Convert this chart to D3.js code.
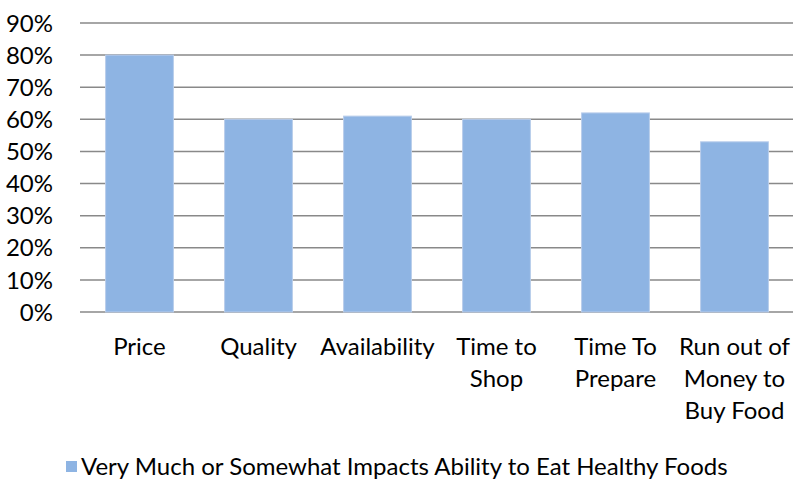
<!DOCTYPE html>
<html lang="en">
<head>
    <meta charset="UTF-8">
    <title>Impacts on Healthy Eating</title>
    <style>
        body {
            margin: 0;
            background-color: white;
        }
        text {
            font-family: Lato, "Open Sans", sans-serif;
            font-size: 24px;
            fill: #000;
        }
        .grid line {
            stroke: #898989;
            stroke-width: 1.5;
        }
        .bar {
            fill: rgb(142, 180, 227);
            stroke: rgb(185, 205, 235);
            stroke-width: 1;
        }
    </style>
</head>
<body>
    <svg width="793" height="481"></svg>
    <script src="https://cdn.jsdelivr.net/npm/d3@7"></script>
    <script>
        const categories = ["Price", "Quality", "Availability", "Time to\nShop", "Time To\nPrepare", "Run out of\nMoney to\nBuy Food"];
        const values = [0.80, 0.60, 0.61, 0.60, 0.62, 0.53];
        const yTicks = [0, 0.1, 0.2, 0.3, 0.4, 0.5, 0.6, 0.7, 0.8, 0.9];
        const seriesName = "Very Much or Somewhat Impacts Ability to Eat Healthy Foods";

        const svg = d3.select("svg");
        const plotLeft = 80, plotRight = 794, plotTop = 23, plotBottom = 312;

        const x = d3.scaleBand()
            .domain(categories)
            .range([plotLeft, plotRight])
            .paddingInner(0.43)
            .paddingOuter(0.215);

        const y = d3.scaleLinear()
            .domain([0, 0.9])
            .range([plotBottom, plotTop]);

        // gridlines
        svg.append("g")
            .attr("class", "grid")
            .selectAll("line")
            .data(yTicks)
            .enter()
            .append("line")
            .attr("x1", plotLeft)
            .attr("x2", plotRight)
            .attr("y1", d => y(d))
            .attr("y2", d => y(d));

        // y labels
        svg.append("g")
            .selectAll("text")
            .data(yTicks)
            .enter()
            .append("text")
            .attr("x", 53)
            .attr("y", d => y(d))
            .attr("dy", "0.36em")
            .attr("text-anchor", "end")
            .text(d => d3.format(".0%")(d));

        // bars
        svg.append("g")
            .selectAll("rect")
            .data(values)
            .enter()
            .append("rect")
            .attr("class", "bar")
            .attr("x", (d, i) => x(categories[i]))
            .attr("width", x.bandwidth())
            .attr("y", d => y(d))
            .attr("height", d => y(0) - y(d));

        // category labels
        svg.append("g")
            .selectAll("text")
            .data(categories)
            .enter()
            .append("text")
            .attr("text-anchor", "middle")
            .attr("x", d => x(d) + x.bandwidth() / 2)
            .attr("y", 355)
            .each(function(d) {
                const lines = d.split("\n");
                d3.select(this).selectAll("tspan")
                    .data(lines)
                    .enter()
                    .append("tspan")
                    .attr("x", x(d) + x.bandwidth() / 2)
                    .attr("dy", (l, i) => i === 0 ? 0 : 32)
                    .text(l => l);
            });

        // legend
        const legend = svg.append("g");
        legend.append("rect")
            .attr("x", 66)
            .attr("y", 461)
            .attr("width", 11)
            .attr("height", 11)
            .attr("fill", "rgb(142, 180, 227)");
        legend.append("text")
            .attr("x", 81)
            .attr("y", 475)
            .text(seriesName);
    </script>
</body>
</html>
